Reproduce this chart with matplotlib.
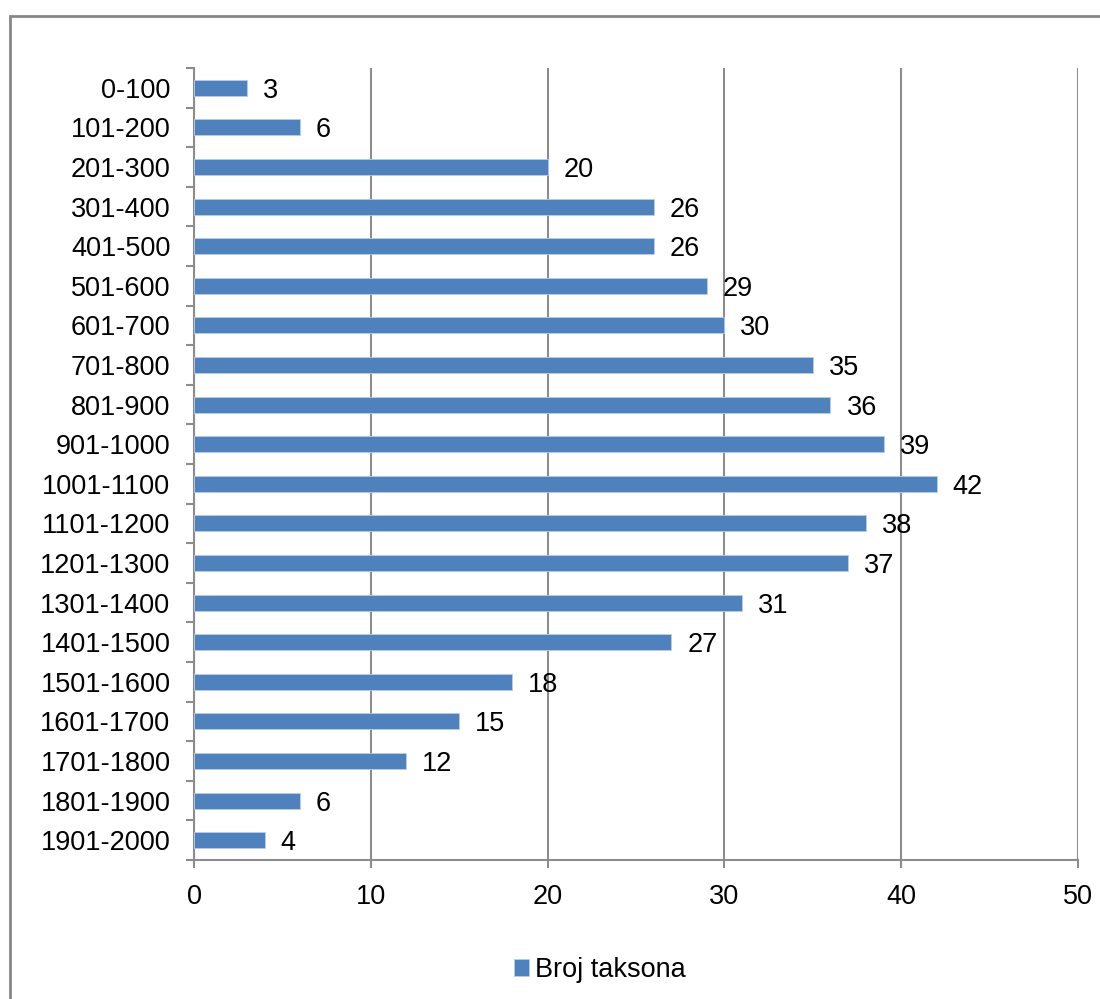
import matplotlib
matplotlib.use("Agg")
import matplotlib.pyplot as plt
from matplotlib.patches import Rectangle

plt.rcParams['font.family'] = ['Liberation Sans', 'DejaVu Sans']

categories = ['0-100', '101-200', '201-300', '301-400', '401-500', '501-600',
              '601-700', '701-800', '801-900', '901-1000', '1001-1100',
              '1101-1200', '1201-1300', '1301-1400', '1401-1500', '1501-1600',
              '1601-1700', '1701-1800', '1801-1900', '1901-2000']
values = [3, 6, 20, 26, 26, 29, 30, 35, 36, 39, 42, 38, 37, 31, 27, 18, 15, 12, 6, 4]
xticks = [0, 10, 20, 30, 40, 50]
series_name = 'Broj taksona'

bar_color = '#4F81BD'
grid_color = '#8C8C8C'
fs = 19.5

fig = plt.figure(figsize=(11, 9.99), dpi=100)
W, H = 1100, 999
ax = fig.add_axes([194 / W, 1 - 860 / H, (1078 - 194) / W, (860 - 68) / H])

ypos = list(range(len(categories)))
bars = ax.barh(ypos, values, height=0.4, color=bar_color,
               edgecolor='#B9CDE5', linewidth=0.6, zorder=3, label=series_name)

for y, v in zip(ypos, values):
    ax.annotate(str(v), (v, y), xytext=(11.5, 0), textcoords='offset points',
                va='center_baseline', ha='left', fontsize=fs, color='black')

ax.set_ylim(len(categories) - 0.5, -0.5)
ax.set_xlim(0, 50)
ax.set_xticks(xticks)
ax.set_xticklabels([str(t) for t in xticks])
ax.set_yticks([y - 0.5 for y in ypos] + [len(categories) - 0.5])
ax.set_yticklabels([])
ax.set_yticks(ypos, minor=True)
ax.set_yticklabels(categories, minor=True)
ax.tick_params(axis='y', which='minor', length=0, pad=17, labelsize=fs)
ax.tick_params(axis='y', which='major', length=6, width=1.5, color=grid_color, direction='out')
ax.tick_params(axis='x', length=6, width=1.5, color=grid_color, pad=11, labelsize=fs)

ax.grid(axis='x', color=grid_color, linewidth=1.5, zorder=0)
for s in ['top', 'right']:
    ax.spines[s].set_visible(False)
for s in ['left', 'bottom']:
    ax.spines[s].set_color(grid_color)
    ax.spines[s].set_linewidth(1.5)

leg = fig.legend(handles=[bars], labels=[series_name], loc='center',
                 bbox_to_anchor=(600 / W, 1 - 970 / H), frameon=False,
                 fontsize=fs, handlelength=0.55, handleheight=0.55,
                 handletextpad=0.2)

fig.patches.append(Rectangle((10 / W, -0.1), 1.2, 1 - 16 / H + 0.1,
                             transform=fig.transFigure, fill=False,
                             edgecolor='#878787', linewidth=2))

fig.savefig('out.png', dpi=100)
